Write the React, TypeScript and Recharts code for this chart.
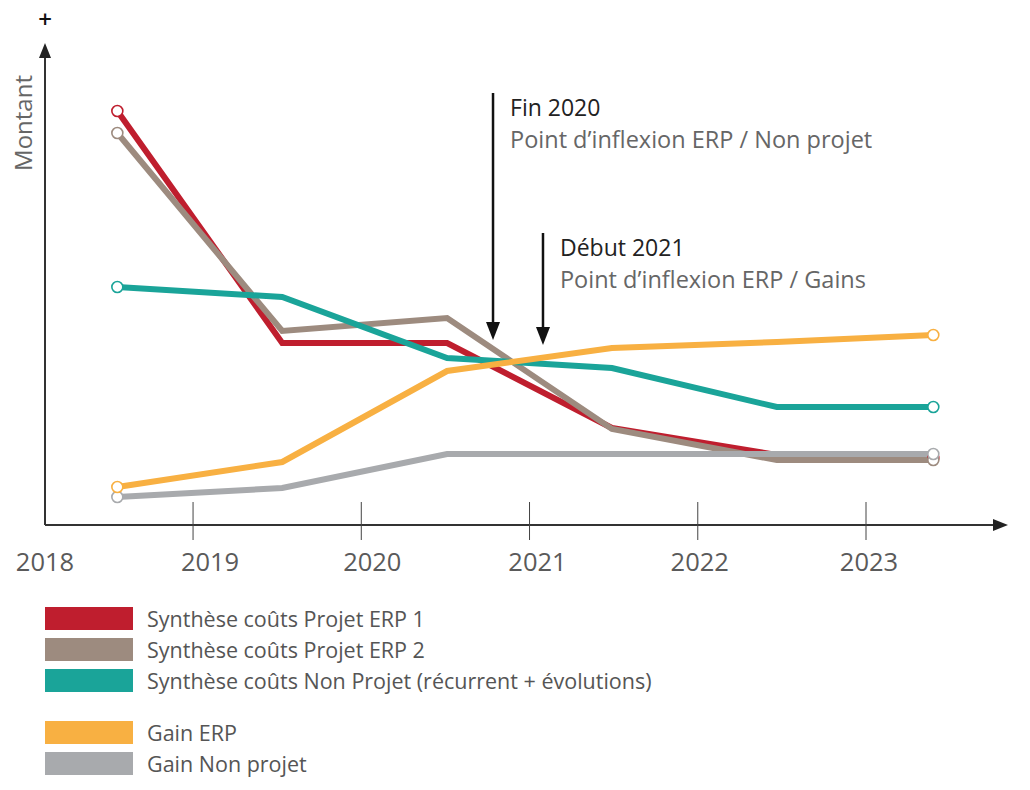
// Cost vs gain timeline: ERP project costs, non-project costs and gains, 2018–2023.
import { LineChart, Line, XAxis, YAxis, ReferenceLine } from "recharts";

const YEARS = [2018.55, 2019.53, 2020.51, 2021.49, 2022.47, 2023.4];
const ERP1 = [414, 182, 182, 97, 70, 67];
const ERP2 = [392, 194, 207, 96, 65, 65];
const NON_PROJET = [238, 228, 167, 157, 118, 118];
const GAIN_ERP = [38, 63, 154, 177, 183, 190];
const GAIN_NON_PROJET = [28, 37, 71, 71, 71, 71];

const X_TICKS = [2018.12, 2019, 2020, 2021, 2022, 2023];
const X_MIN = 2018.12;
const X_MAX = 2023.844;
const Y_MAX = 482;

const FONT = "'Open Sans', sans-serif";
const LABEL_DX = [0, 17, 11, 8, 2, 3];

const SERIES = [
  { key: "erp1", name: "Synthèse coûts Projet ERP 1", color: "#BF1E2E" },
  { key: "erp2", name: "Synthèse coûts Projet ERP 2", color: "#9D8B7F" },
  { key: "nonProjet", name: "Synthèse coûts Non Projet (récurrent + évolutions)", color: "#1AA499" },
  { key: "gainNonProjet", name: "Gain Non projet", color: "#A8AAAD" },
  { key: "gainErp", name: "Gain ERP", color: "#F8B042" },
];

const LEGEND = [
  { name: "Synthèse coûts Projet ERP 1", color: "#BF1E2E" },
  { name: "Synthèse coûts Projet ERP 2", color: "#9D8B7F" },
  { name: "Synthèse coûts Non Projet (récurrent + évolutions)", color: "#1AA499" },
  null,
  { name: "Gain ERP", color: "#F8B042" },
  { name: "Gain Non projet", color: "#A8AAAD" },
];

const data = YEARS.map((x, i) => ({
  x,
  erp1: ERP1[i],
  erp2: ERP2[i],
  nonProjet: NON_PROJET[i],
  gainErp: GAIN_ERP[i],
  gainNonProjet: GAIN_NON_PROJET[i],
}));

const endDot = (color: string) => (p: any) => {
  if (p.index !== 0 && p.index !== YEARS.length - 1) return <g key={p.index} />;
  return <circle key={p.index} cx={p.cx} cy={p.cy} r={5.5} fill="#fff" stroke={color} strokeWidth={1.6} />;
};

function YearTick({ x, y, payload, index }: any) {
  const first = index === 0;
  return (
    <g>
      {!first && <line x1={x} x2={x} y1={y - 23} y2={y + 15} stroke="#444" strokeWidth={1} />}
      <text x={x + LABEL_DX[index]} y={y + 46} textAnchor="middle" fontSize={25.5} fill="#5a5a5a" fontFamily={FONT}>
        {Math.floor(payload.value)}
      </text>
    </g>
  );
}

function YAxisArrow({ x1, y1, y2 }: any) {
  const top = Math.min(y1, y2);
  const bottom = Math.max(y1, y2);
  return (
    <g>
      <line x1={x1} x2={x1} y1={top + 8} y2={bottom} stroke="#333" strokeWidth={2} />
      <polygon points={`${x1},${top} ${x1 - 6},${top + 15} ${x1 + 6},${top + 15}`} fill="#222" />
      <text x={x1} y={top - 15} textAnchor="middle" fontSize={24} fontWeight={600} fill="#111" fontFamily={FONT}>+</text>
      <text
        transform={`translate(${x1 - 23},${top + 80}) rotate(-90)`}
        textAnchor="middle"
        dominantBaseline="central"
        fontSize={24}
        fill="#666"
        fontFamily={FONT}
      >
        Montant
      </text>
    </g>
  );
}

function XAxisArrow({ x1, x2, y1 }: any) {
  const left = Math.min(x1, x2);
  const right = Math.max(x1, x2);
  return (
    <g>
      <line x1={left} x2={right - 8} y1={y1} y2={y1} stroke="#333" strokeWidth={2} />
      <polygon points={`${right},${y1} ${right - 15},${y1 - 6} ${right - 15},${y1 + 6}`} fill="#222" />
    </g>
  );
}

const annotationShape = (title: string, subtitle: string) => (p: any) => {
  const top = Math.min(p.y1, p.y2);
  const tip = Math.max(p.y1, p.y2);
  return (
    <g>
      <line x1={p.x1} x2={p.x1} y1={top} y2={tip - 10} stroke="#111" strokeWidth={2.5} />
      <polygon points={`${p.x1},${tip} ${p.x1 - 7},${tip - 18} ${p.x1 + 7},${tip - 18}`} fill="#111" />
      <text x={p.x1 + 17} y={top + 23} fontSize={23} fill="#222" fontFamily={FONT}>{title}</text>
      <text x={p.x1 + 17} y={top + 55} fontSize={23.5} fill="#666" fontFamily={FONT}>{subtitle}</text>
    </g>
  );
};

export default function App() {
  return (
    <div style={{ position: "absolute", left: 0, top: 0, width: 1030, height: 790, background: "#fff" }}>
      <LineChart width={1030} height={600} data={data} margin={{ top: 43, right: 22, bottom: 0, left: 45 }}>
        <XAxis
          dataKey="x"
          type="number"
          domain={[X_MIN, X_MAX]}
          ticks={X_TICKS}
          allowDataOverflow
          axisLine={false}
          tickLine={false}
          tickSize={0}
          tickMargin={0}
          height={75}
          interval={0}
          tick={<YearTick />}
        />
        <YAxis hide type="number" domain={[0, Y_MAX]} allowDataOverflow />
        <ReferenceLine x={X_MIN} ifOverflow="visible" shape={<YAxisArrow />} />
        <ReferenceLine y={0} ifOverflow="visible" shape={<XAxisArrow />} />
        <ReferenceLine
          ifOverflow="visible"
          segment={[{ x: 2020.783, y: 432 }, { x: 2020.783, y: 185 }]}
          shape={annotationShape("Fin 2020", "Point d’inflexion ERP / Non projet")}
        />
        <ReferenceLine
          ifOverflow="visible"
          segment={[{ x: 2021.08, y: 292 }, { x: 2021.08, y: 180 }]}
          shape={annotationShape("Début 2021", "Point d’inflexion ERP / Gains")}
        />
        {SERIES.map((s) => (
          <Line
            key={s.key}
            dataKey={s.key}
            name={s.name}
            type="linear"
            stroke={s.color}
            strokeWidth={6}
            strokeLinejoin="miter"
            dot={endDot(s.color)}
            activeDot={false}
            isAnimationActive={false}
          />
        ))}
      </LineChart>
      <div style={{ position: "absolute", left: 45, top: 603, fontFamily: FONT }}>
        {LEGEND.map((l, i) =>
          l ? (
            <div key={i} style={{ display: "flex", alignItems: "center", height: 31 }}>
              <div style={{ width: 88, height: 23, background: l.color }} />
              <span style={{ marginLeft: 14, fontSize: 21.5, color: "#555", whiteSpace: "nowrap" }}>{l.name}</span>
            </div>
          ) : (
            <div key={i} style={{ height: 21 }} />
          )
        )}
      </div>
    </div>
  );
}
